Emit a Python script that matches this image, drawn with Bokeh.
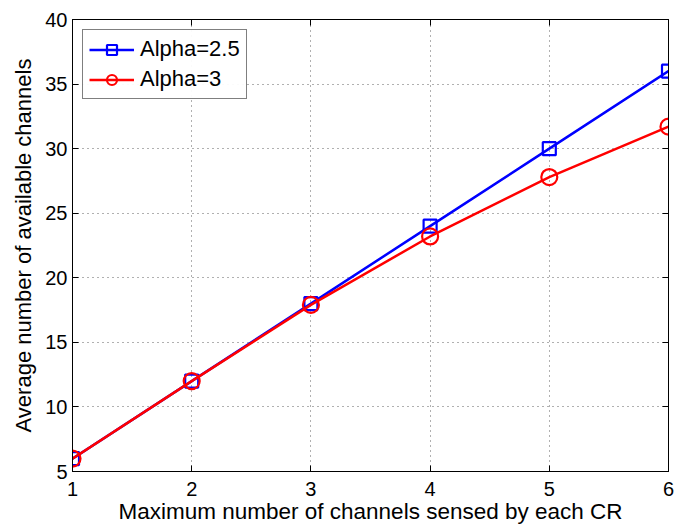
from bokeh.plotting import figure
from bokeh.models import Range1d, LinearAxis, Legend, LegendItem, FixedTicker
from bokeh.embed import file_html
from bokeh.resources import INLINE

x_vals = [1, 2, 3, 4, 5, 6]
alpha25 = [6, 12, 18, 24, 30, 36]
alpha3 = [6, 12, 17.9, 23.2, 27.8, 31.7]
x_ticks = [1, 2, 3, 4, 5, 6]
y_ticks = [5, 10, 15, 20, 25, 30, 35, 40]

FONT = "Liberation Sans"

p = figure(width=677, height=527, output_backend="svg", toolbar_location=None,
           x_range=Range1d(1, 6), y_range=Range1d(5, 40),
           min_border_left=72, min_border_right=9, min_border_top=19, min_border_bottom=56)
p.background_fill_color = "white"
p.border_fill_color = "white"
p.outline_line_color = "black"
p.outline_line_width = 1

for ax in (p.xaxis[0], p.yaxis[0]):
    ax.major_tick_in = 6
    ax.major_tick_out = 0
    ax.minor_tick_line_color = None
    ax.major_label_text_font = FONT
    ax.major_label_text_font_size = "20px"
    ax.major_label_text_color = "black"
    ax.axis_label_text_font = FONT
    ax.axis_label_text_font_size = "22px"
    ax.axis_label_text_font_style = "normal"
    ax.axis_label_text_color = "black"
    ax.axis_line_color = "black"

p.xaxis.axis_label_text_font_size = "22.5px"
p.xaxis.ticker = FixedTicker(ticks=x_ticks)
p.yaxis.ticker = FixedTicker(ticks=y_ticks)
p.xaxis.axis_label = "Maximum number of channels sensed by each CR"
p.yaxis.axis_label = "Average number of available channels"
p.xaxis.major_label_standoff = 10
p.yaxis.major_label_standoff = 5
p.xaxis.axis_label_standoff = 0
p.yaxis.axis_label_standoff = 6

for loc, tick in (("above", x_ticks), ("right", y_ticks)):
    ax = LinearAxis(ticker=FixedTicker(ticks=tick), major_tick_in=6, major_tick_out=0,
                    minor_tick_line_color=None,
                    major_label_overrides={t: "" for t in tick},
                    major_label_standoff=0, axis_line_color="black")
    p.add_layout(ax, loc)

p.xgrid.ticker = FixedTicker(ticks=x_ticks)
p.ygrid.ticker = FixedTicker(ticks=y_ticks)
for g in (p.xgrid[0], p.ygrid[0]):
    g.grid_line_color = "#606060"
    g.grid_line_dash = "1 4"
    g.grid_line_width = 1

r1l = p.line(x_vals, alpha25, line_color="blue", line_width=2.5)
r1m = p.scatter(x_vals, alpha25, marker="square", size=13, fill_color=None,
                line_color="blue", line_width=2.2)
r2l = p.line(x_vals, alpha3, line_color="red", line_width=2.5)
r2m = p.scatter(x_vals, alpha3, marker="circle", size=16, fill_color=None,
                line_color="red", line_width=2.2)

legend = Legend(items=[LegendItem(label="Alpha=2.5", renderers=[r1l, r1m]),
                       LegendItem(label="Alpha=3", renderers=[r2l, r2m])],
                location="top_left")
legend.label_text_font = FONT
legend.label_text_font_size = "22px"
legend.label_text_color = "black"
legend.border_line_color = "black"
legend.border_line_width = 1
legend.glyph_width = 45
legend.glyph_height = 25
legend.label_height = 25
legend.spacing = 4
legend.padding = 6
legend.margin = 10
legend.label_standoff = 6
p.add_layout(legend)

open("out.html", "w").write(file_html(p, INLINE))
